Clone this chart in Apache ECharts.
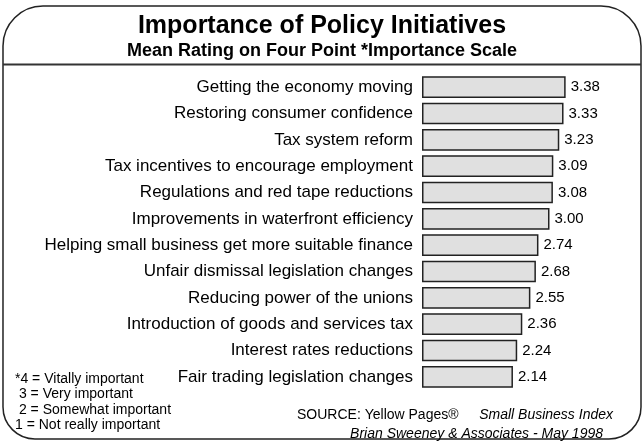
<!DOCTYPE html>
<html>
<head>
<meta charset="utf-8">
<script src="https://cdn.jsdelivr.net/npm/echarts@6/dist/echarts.min.js"></script>
<style>
  html, body { margin: 0; padding: 0; background: #fff; }
  #chart { width: 644px; height: 442px; }
</style>
</head>
<body>
<div id="chart"></div>
<script>
// Policy initiatives and their mean importance ratings (1-4 scale)
var initiatives = [
  'Getting the economy moving',
  'Restoring consumer confidence',
  'Tax system reform',
  'Tax incentives to encourage employment',
  'Regulations and red tape reductions',
  'Improvements in waterfront efficiency',
  'Helping small business get more suitable finance',
  'Unfair dismissal legislation changes',
  'Reducing power of the unions',
  'Introduction of goods and services tax',
  'Interest rates reductions',
  'Fair trading legislation changes'
];
var meanRatings = [3.38, 3.33, 3.23, 3.09, 3.08, 3.00, 2.74, 2.68, 2.55, 2.36, 2.24, 2.14];

var scaleNotes = [
  '*4 = Vitally important',
  ' 3 = Very important',
  ' 2 = Somewhat important',
  '1 = Not really important'
];

var titleText = 'Importance of Policy Initiatives';
var subtitleText = 'Mean Rating on Four Point *Importance Scale';

var font = '"Liberation Sans", Arial, sans-serif';
var chart = echarts.init(document.getElementById('chart'));

var graphics = [
  {
    type: 'rect',
    shape: { x: 3, y: 6, width: 638, height: 433, r: [40, 40, 32, 32] },
    style: { fill: 'none', stroke: '#222', lineWidth: 1.5 },
    z: 0
  },
  {
    type: 'line',
    shape: { x1: 3, y1: 64.5, x2: 641, y2: 64.5 },
    style: { stroke: '#333', lineWidth: 2 }
  },
  {
    type: 'text', x: 322, y: 26,
    style: { text: titleText, font: 'bold 25px ' + font, fill: '#000', textAlign: 'center', textVerticalAlign: 'middle' }
  },
  {
    type: 'text', x: 322, y: 51,
    style: { text: subtitleText, font: 'bold 18px ' + font, fill: '#000', textAlign: 'center', textVerticalAlign: 'middle' }
  },
  {
    type: 'text', x: 297, y: 415,
    style: { text: 'SOURCE: Yellow Pages®', font: '14px ' + font, fill: '#000', textAlign: 'left', textVerticalAlign: 'middle' }
  },
  {
    type: 'text', x: 613, y: 415,
    style: { text: 'Small Business Index', font: 'italic 14px ' + font, fill: '#000', textAlign: 'right', textVerticalAlign: 'middle' }
  },
  {
    type: 'text', x: 603, y: 434,
    style: { text: 'Brian Sweeney & Associates - May 1998', font: 'italic 14px ' + font, fill: '#000', textAlign: 'right', textVerticalAlign: 'middle' }
  }
];

scaleNotes.forEach(function (t, i) {
  graphics.push({
    type: 'text', x: 15, y: 379 + i * 15.5,
    style: { text: t, font: '14px ' + font, fill: '#000', textAlign: 'left', textVerticalAlign: 'middle' }
  });
});

chart.setOption({
  animation: false,
  backgroundColor: '#fff',
  grid: { left: 422, right: 52, top: 74, height: 316, containLabel: false },
  xAxis: {
    type: 'value', min: 0, max: 4,
    show: false
  },
  yAxis: {
    type: 'category',
    data: initiatives,
    inverse: true,
    axisLine: { show: false },
    axisTick: { show: false },
    axisLabel: { margin: 9, fontSize: 17, fontFamily: font, color: '#000' }
  },
  series: [{
    type: 'bar',
    data: meanRatings,
    barWidth: '82%',
    itemStyle: { color: '#e0e0e0', borderColor: '#222', borderWidth: 1.5 },
    label: {
      show: true, position: 'right', distance: 5,
      fontSize: 15, fontFamily: font, color: '#000',
      formatter: function (p) { return p.value.toFixed(2); }
    }
  }],
  graphic: graphics
});
</script>
</body>
</html>
